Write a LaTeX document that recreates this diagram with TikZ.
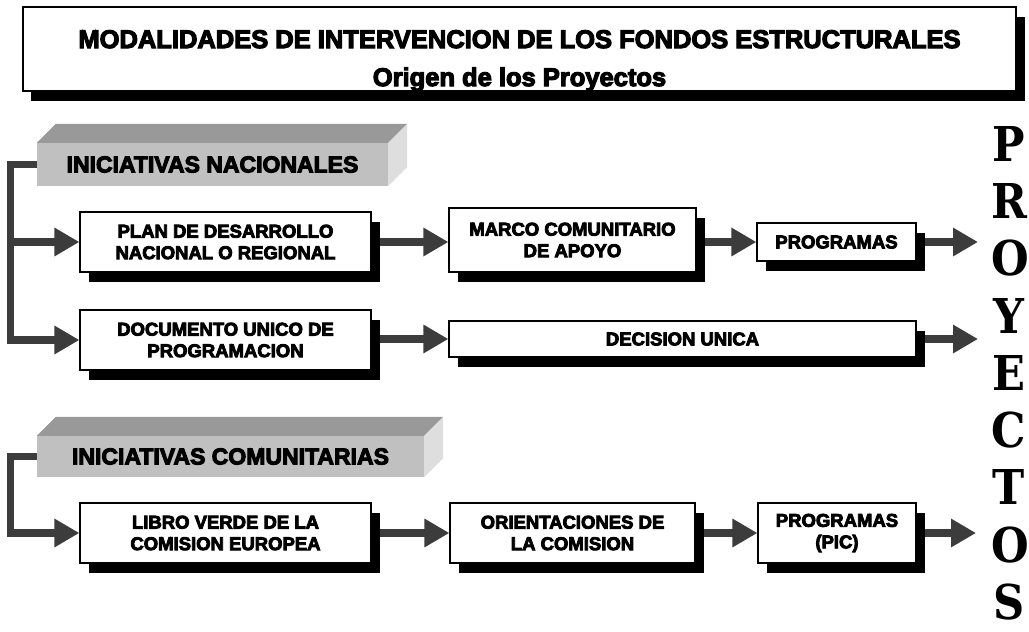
\documentclass[tikz,border=0pt]{standalone}
\usepackage{fontspec}
\setmainfont{Liberation Sans}
\newfontfamily\blk{Liberation Sans}[BoldFeatures={FakeBold=4.5}]
\newfontfamily\proy{DejaVu Serif}
\usetikzlibrary{arrows.meta,shadows}
\definecolor{conncol}{HTML}{3C3C3C}
\definecolor{frontcol}{HTML}{C0C0C0}
\definecolor{topcol}{HTML}{999999}
\definecolor{sidecol}{HTML}{DEDEDE}
\pgfdeclarelayer{bg}
\pgfsetlayers{bg,main}
\begin{document}
\begin{tikzpicture}[x=1pt,y=-1pt,
  boxbase/.style={draw=black, line width=1.2pt, fill=white, inner sep=0pt, align=center,
    general shadow={fill=black, shadow xshift=8.5pt, shadow yshift=-10pt}},
  box/.style={boxbase, font=\blk\bfseries\fontsize{18.5}{21.5}\selectfont},
  titlebox/.style={boxbase, line width=1.5pt, general shadow={fill=black, shadow xshift=8pt, shadow yshift=-10pt}},
  titletext/.style={inner sep=0pt, align=center, font=\blk\bfseries\fontsize{25.5}{38}\selectfont},
  front/.style={fill=frontcol, inner sep=0pt, font=\blk\bfseries\fontsize{23}{26}\selectfont},
  topface/.style={fill=topcol},
  sideface/.style={fill=sidecol},
  conn/.style={draw=conncol, line width=7.5pt, line join=miter, -{Triangle[length=25pt,width=27pt]}, color=conncol}
]
\useasboundingbox (0,0) rectangle (1029,632);

% title
\node[titlebox, minimum width=993pt, minimum height=84pt] (title) at (519.5,49) {};
\node[titletext, anchor=north] (titletxt) at (519.5,30)
  {MODALIDADES DE INTERVENCION DE LOS FONDOS ESTRUCTURALES\\Origen de los Proyectos};

% 3D headers
\node[front, minimum width=351pt, minimum height=43pt] (nac) at (212.5,164.5) {INICIATIVAS NACIONALES};
\fill[topface] (nac.north west) -- ([shift={(19,-19)}]nac.north west) -- ([shift={(19,-19)}]nac.north east) -- (nac.north east) -- cycle;
\fill[sideface] (nac.north east) -- ([shift={(19,-19)}]nac.north east) -- ([shift={(19,-19)}]nac.south east) -- (nac.south east) -- cycle;

\node[front, minimum width=387pt, minimum height=41pt] (com) at (230.5,456.5) {INICIATIVAS COMUNITARIAS};
\fill[topface] (com.north west) -- ([shift={(19,-19)}]com.north west) -- ([shift={(19,-19)}]com.north east) -- (com.north east) -- cycle;
\fill[sideface] (com.north east) -- ([shift={(19,-19)}]com.north east) -- ([shift={(19,-19)}]com.south east) -- (com.south east) -- cycle;

% boxes
\node[box, minimum width=291pt, minimum height=60pt] (plan) at (225.5,242) {PLAN DE DESARROLLO\\NACIONAL O REGIONAL};
\node[box, minimum width=291pt, minimum height=60pt] (doc) at (225.5,340) {DOCUMENTO UNICO DE\\PROGRAMACION};
\node[box, minimum width=247pt, minimum height=64pt] (marco) at (572.5,240) {MARCO COMUNITARIO\\DE APOYO};
\node[box, minimum width=159pt, minimum height=38pt] (prog) at (836.5,242) {PROGRAMAS};
\node[box, minimum width=467pt, minimum height=36pt] (dec) at (682.5,339) {DECISION UNICA};
\node[box, minimum width=291pt, minimum height=60pt] (libro) at (225.5,533) {LIBRO VERDE DE LA\\COMISION EUROPEA};
\node[box, minimum width=245pt, minimum height=60pt] (orient) at (572.5,533) {ORIENTACIONES DE\\LA COMISION};
\node[box, minimum width=158pt, minimum height=60pt] (pic) at (837,533) {PROGRAMAS\\(PIC)};

% PROYECTOS
\node[inner sep=0pt, anchor=north, text width=40pt, align=center, xscale=0.9,
  font=\proy\bfseries\fontsize{48}{57.3}\selectfont] (proy) at (1009,126)
  {P\\R\\O\\Y\\E\\C\\T\\O\\S};

\coordinate (o1) at (978,242);
\coordinate (o2) at (978,339);
\coordinate (o3) at (976,533);

\begin{pgfonlayer}{bg}
\draw[conn] (nac.west) -- ++(-26.5,0) |- (plan.west);
\draw[conn] (nac.west) -- ++(-26.5,0) |- (doc.west);
\draw[conn] (com.west) -- ++(-26.5,0) |- (libro.west);
\draw[conn] (plan.east) -- (plan.east -| marco.west);
\draw[conn] (prog.west -| marco.east) -- (prog.west);
\draw[conn] (prog.east) -- (o1);
\draw[conn] (dec.west -| doc.east) -- (dec.west);
\draw[conn] (dec.east) -- (o2);
\draw[conn] (libro.east) -- (orient.west);
\draw[conn] (orient.east) -- (pic.west);
\draw[conn] (pic.east) -- (o3);
\end{pgfonlayer}
\end{tikzpicture}
\end{document}
